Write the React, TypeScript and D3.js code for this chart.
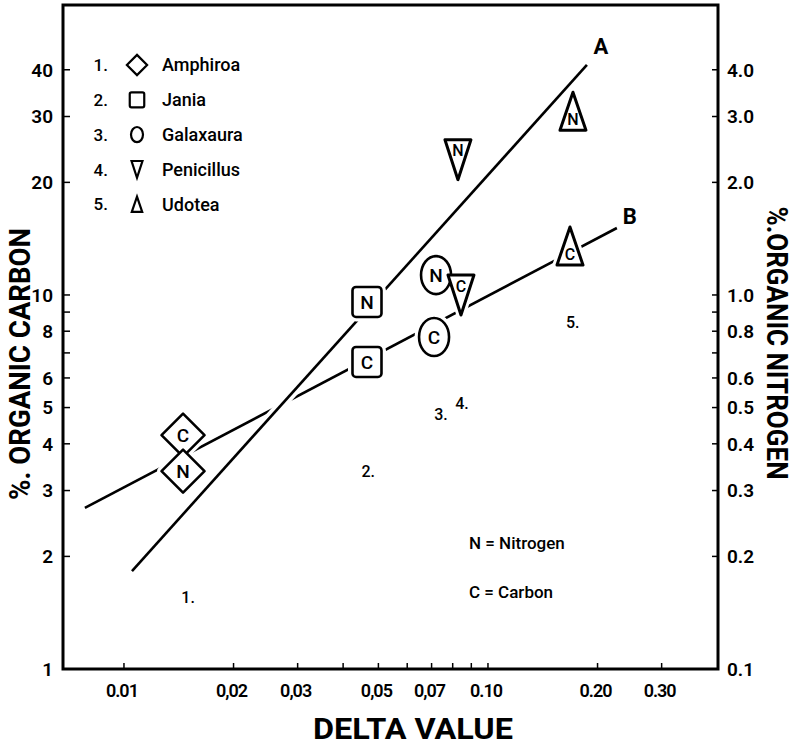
import React, { useEffect, useRef } from "react";
import * as d3 from "d3";

// species in legend order, with their symbol and group number
const species = ["Amphiroa", "Jania", "Galaxaura", "Penicillus", "Udotea"];
const symbols = ["diamond", "square", "ellipse", "triangleDown", "triangleUp"];
const groupLabels = ["1.", "2.", "3.", "4.", "5."];

// measured points: carbon is read on the left axis, nitrogen on the right one
const deltaCarbon = [0.01453, 0.04652, 0.0711, 0.0843, 0.168];
const carbonPct = [4.22, 6.62, 7.72, 10.0, 13.52];
const deltaNitrogen = [0.01453, 0.04652, 0.072, 0.0827, 0.1712];
const nitrogenPct = [0.338, 0.958, 1.13, 2.3, 3.1];

// where the group numbers sit (delta, carbon)
const groupDelta = [0.015, 0.0469, 0.0743, 0.0848, 0.171];
const groupCarbon = [1.557, 3.38, 4.81, 5.13, 8.47];

// fitted lines: A for nitrogen, B for carbon
const lineADelta = [0.01052, 0.187];
const lineANitrogen = [0.1828, 4.12];
const lineBDelta = [0.00781, 0.226];
const lineBCarbon = [2.695, 15.1];

// axis ticks
const deltaTicks = [0.01, 0.02, 0.03, 0.04, 0.05, 0.06, 0.07, 0.08, 0.09, 0.1, 0.2, 0.3];
const deltaTickLabels = ["0.01", "0,02", "0,03", "", "0,05", "", "0,07", "", "", "0.10", "0.20", "0.30"];
const carbonTicks = [1, 2, 3, 4, 5, 6, 7, 8, 9, 10, 20, 30, 40];
const carbonTickLabels = ["1", "2", "3", "4", "5", "6", "", "8", "", "10", "20", "30", "40"];
const nitrogenTicks = [0.1, 0.2, 0.3, 0.4, 0.5, 0.6, 0.7, 0.8, 0.9, 1.0, 2.0, 3.0, 4.0];
const nitrogenTickLabels = ["0.1", "0.2", "0.3", "0.4", "0.5", "0.6", "", "0.8", "", "1.0", "2.0", "3.0", "4.0"];

const FONT = "Roboto, 'DejaVu Sans', sans-serif";

// big marker outlines, centred on (cx, cy)
const markerPath = (type: string, cx: number, cy: number, s = 1) => {
  const p = d3.path();
  if (type === "diamond") {
    const h = 21.5 * s;
    p.moveTo(cx, cy - h);
    p.lineTo(cx + h, cy);
    p.lineTo(cx, cy + h);
    p.lineTo(cx - h, cy);
    p.closePath();
  } else if (type === "square") {
    const w = 14.5 * s, h = 15 * s, r = 3.5 * s;
    p.moveTo(cx - w + r, cy - h);
    p.arcTo(cx + w, cy - h, cx + w, cy + h, r);
    p.arcTo(cx + w, cy + h, cx - w, cy + h, r);
    p.arcTo(cx - w, cy + h, cx - w, cy - h, r);
    p.arcTo(cx - w, cy - h, cx + w, cy - h, r);
    p.closePath();
  } else if (type === "ellipse") {
    return `M${cx - 15 * s},${cy} a${15 * s},${19 * s} 0 1,0 ${30 * s},0 a${15 * s},${19 * s} 0 1,0 ${-30 * s},0 Z`;
  } else if (type === "triangleDown") {
    const w = 13 * s, h = 20 * s;
    p.moveTo(cx - w, cy - h);
    p.lineTo(cx + w, cy - h);
    p.lineTo(cx, cy + h);
    p.closePath();
  } else {
    const w = 13 * s, h = 19 * s;
    p.moveTo(cx, cy - h);
    p.lineTo(cx + w, cy + h);
    p.lineTo(cx - w, cy + h);
    p.closePath();
  }
  return p.toString();
};

const letterOffset = (type: string) =>
  type === "triangleDown" ? -9 : type === "triangleUp" ? 8 : 0;

// legend symbols are drawn smaller, each at its own scale
const legendScale: Record<string, number> = {
  diamond: 0.47,
  square: 0.5,
  ellipse: 0.4,
  triangleDown: 0.42,
  triangleUp: 0.4,
};

const Chart = () => {
  const ref = useRef<SVGSVGElement>(null);

  useEffect(() => {
    drawChart();
  }, []);

  const drawChart = () => {
    const width = 793;
    const height = 745;
    const left = 63, right = 718, top = 5, bottom = 669;

    const svg = d3.select(ref.current);
    svg.selectAll("*").remove();
    svg.attr("width", width).attr("height", height);

    svg.append("rect").attr("width", width).attr("height", height).attr("fill", "white");

    // log scales; nitrogen axis is the carbon axis divided by ten
    const x = d3.scaleLog().domain([0.0068, 0.4285]).range([left, right]);
    const yC = d3.scaleLog().domain([1, 59.6]).range([bottom, top]);
    const yN = d3.scaleLog().domain([0.1, 5.96]).range([bottom, top]);

    const g = svg.append("g").attr("font-family", FONT).attr("fill", "black");

    // frame
    g.append("rect")
      .attr("x", left)
      .attr("y", top)
      .attr("width", right - left)
      .attr("height", bottom - top)
      .attr("fill", "none")
      .attr("stroke", "black")
      .attr("stroke-width", 3);

    // bottom axis, inward ticks
    g.selectAll(".xtick")
      .data(deltaTicks)
      .enter()
      .append("line")
      .attr("x1", (d) => x(d))
      .attr("x2", (d) => x(d))
      .attr("y1", bottom)
      .attr("y2", bottom - 6)
      .attr("stroke", "black")
      .attr("stroke-width", 1.5);
    g.selectAll(".xlabel")
      .data(deltaTicks)
      .enter()
      .append("text")
      .attr("x", (d) => x(d) - 2)
      .attr("y", 697)
      .attr("text-anchor", "middle")
      .attr("font-size", 18)
      .attr("font-weight", 600)
      .attr("letter-spacing", -1)
      .text((d, i) => deltaTickLabels[i]);

    // left axis
    g.selectAll(".ctick")
      .data(carbonTicks)
      .enter()
      .append("line")
      .attr("x1", left)
      .attr("x2", left + 7)
      .attr("y1", (d) => yC(d))
      .attr("y2", (d) => yC(d))
      .attr("stroke", "black")
      .attr("stroke-width", 1.5);
    g.selectAll(".clabel")
      .data(carbonTicks)
      .enter()
      .append("text")
      .attr("x", 53)
      .attr("y", (d) => yC(d))
      .attr("dy", "0.36em")
      .attr("text-anchor", "end")
      .attr("font-size", 19)
      .attr("font-weight", 600)
      .text((d, i) => carbonTickLabels[i]);

    // right axis
    g.selectAll(".ntick")
      .data(nitrogenTicks)
      .enter()
      .append("line")
      .attr("x1", right)
      .attr("x2", right - 6)
      .attr("y1", (d) => yN(d))
      .attr("y2", (d) => yN(d))
      .attr("stroke", "black")
      .attr("stroke-width", 1.5);
    g.selectAll(".nlabel")
      .data(nitrogenTicks)
      .enter()
      .append("text")
      .attr("x", 727)
      .attr("y", (d) => yN(d))
      .attr("dy", "0.36em")
      .attr("font-size", 19)
      .attr("font-weight", 600)
      .text((d, i) => nitrogenTickLabels[i]);

    // axis titles
    g.append("text")
      .attr("x", 413)
      .attr("y", 739)
      .attr("text-anchor", "middle")
      .attr("font-size", 29)
      .attr("font-weight", 700)
      .attr("textLength", 200)
      .attr("lengthAdjust", "spacingAndGlyphs")
      .text("DELTA VALUE");
    g.append("text")
      .attr("transform", "translate(20,364) rotate(-90)")
      .attr("text-anchor", "middle")
      .attr("dy", "0.36em")
      .attr("font-size", 29)
      .attr("font-weight", 700)
      .attr("textLength", 272)
      .attr("lengthAdjust", "spacingAndGlyphs")
      .text("%. ORGANIC CARBON");
    g.append("text")
      .attr("transform", "translate(777,343) rotate(90)")
      .attr("text-anchor", "middle")
      .attr("dy", "0.36em")
      .attr("font-size", 29)
      .attr("font-weight", 700)
      .attr("textLength", 273)
      .attr("lengthAdjust", "spacingAndGlyphs")
      .text("%.ORGANIC NITROGEN");

    // fitted lines, B first so A can cut it where they cross
    const lineB = d3
      .line<number>()
      .x((d) => x(d))
      .y((d, i) => yC(lineBCarbon[i]));
    const lineA = d3
      .line<number>()
      .x((d) => x(d))
      .y((d, i) => yN(lineANitrogen[i]));

    g.append("path")
      .attr("d", lineB(lineBDelta))
      .attr("fill", "none")
      .attr("stroke", "black")
      .attr("stroke-width", 2.6);
    g.append("path")
      .attr("d", lineA(lineADelta))
      .attr("fill", "none")
      .attr("stroke", "white")
      .attr("stroke-width", 10);
    g.append("path")
      .attr("d", lineA(lineADelta))
      .attr("fill", "none")
      .attr("stroke", "black")
      .attr("stroke-width", 2.6);

    const lastA = lineADelta.length - 1;
    g.append("text")
      .attr("x", x(lineADelta[lastA]) + 14)
      .attr("y", yN(lineANitrogen[lastA]) - 11)
      .attr("text-anchor", "middle")
      .attr("font-size", 22)
      .attr("font-weight", 700)
      .text("A");
    const lastB = lineBDelta.length - 1;
    g.append("text")
      .attr("x", x(lineBDelta[lastB]) + 13)
      .attr("y", yC(lineBCarbon[lastB]) - 4)
      .attr("text-anchor", "middle")
      .attr("font-size", 22)
      .attr("font-weight", 700)
      .text("B");

    // markers: N on the nitrogen scale, C on the carbon scale
    const points: { type: string; cx: number; cy: number; letter: string }[] = [];
    species.forEach((s, i) => {
      points.push({ type: symbols[i], cx: x(deltaCarbon[i]), cy: yC(carbonPct[i]), letter: "C" });
      points.push({ type: symbols[i], cx: x(deltaNitrogen[i]), cy: yN(nitrogenPct[i]), letter: "N" });
    });

    // white halos first so the lines break around the symbols
    g.selectAll(".halo")
      .data(points)
      .enter()
      .append("path")
      .attr("d", (d) => markerPath(d.type, d.cx, d.cy))
      .attr("fill", "white")
      .attr("stroke", "white")
      .attr("stroke-width", 9)
      .attr("stroke-linejoin", "round");

    const marks = g.selectAll(".mark").data(points).enter().append("g");
    marks
      .append("path")
      .attr("d", (d) => markerPath(d.type, d.cx, d.cy))
      .attr("fill", "white")
      .attr("stroke", "black")
      .attr("stroke-width", (d) => (d.type.startsWith("triangle") ? 3 : 2.6))
      .attr("stroke-linejoin", "round");
    marks
      .append("text")
      .attr("x", (d) => d.cx)
      .attr("y", (d) => d.cy + letterOffset(d.type))
      .attr("dy", "0.36em")
      .attr("text-anchor", "middle")
      .attr("font-size", (d) => (d.type.startsWith("triangle") ? 16 : 19))
      .attr("font-weight", 500)
      .text((d) => d.letter);

    // group numbers
    g.selectAll(".group")
      .data(groupLabels)
      .enter()
      .append("text")
      .attr("x", (d, i) => x(groupDelta[i]))
      .attr("y", (d, i) => yC(groupCarbon[i]))
      .attr("dy", "0.36em")
      .attr("text-anchor", "middle")
      .attr("font-size", 16)
      .attr("font-weight", 500)
      .text((d) => d);

    // legend
    const legend = g.append("g");
    species.forEach((s, i) => {
      const ly = 65 + i * 34.8;
      legend
        .append("text")
        .attr("x", 108)
        .attr("y", ly)
        .attr("dy", "0.36em")
        .attr("text-anchor", "end")
        .attr("font-size", 17)
        .attr("font-weight", 500)
        .text(groupLabels[i]);
      legend
        .append("path")
        .attr("d", markerPath(symbols[i], 137, ly, legendScale[symbols[i]]))
        .attr("fill", "none")
        .attr("stroke", "black")
        .attr("stroke-width", 2.2);
      legend
        .append("text")
        .attr("x", 162)
        .attr("y", ly)
        .attr("dy", "0.36em")
        .attr("font-size", 18)
        .attr("font-weight", 500)
        .text(s);
    });

    // key for the letters
    g.append("text")
      .attr("x", 469)
      .attr("y", 543)
      .attr("dy", "0.36em")
      .attr("font-size", 17)
      .attr("font-weight", 500)
      .text("N = Nitrogen");
    g.append("text")
      .attr("x", 469)
      .attr("y", 592)
      .attr("dy", "0.36em")
      .attr("font-size", 17)
      .attr("font-weight", 500)
      .text("C = Carbon");
  };

  return <svg ref={ref} style={{ position: "absolute", left: 0, top: 0, display: "block" }} />;
};

export default function App() {
  return <Chart />;
}
